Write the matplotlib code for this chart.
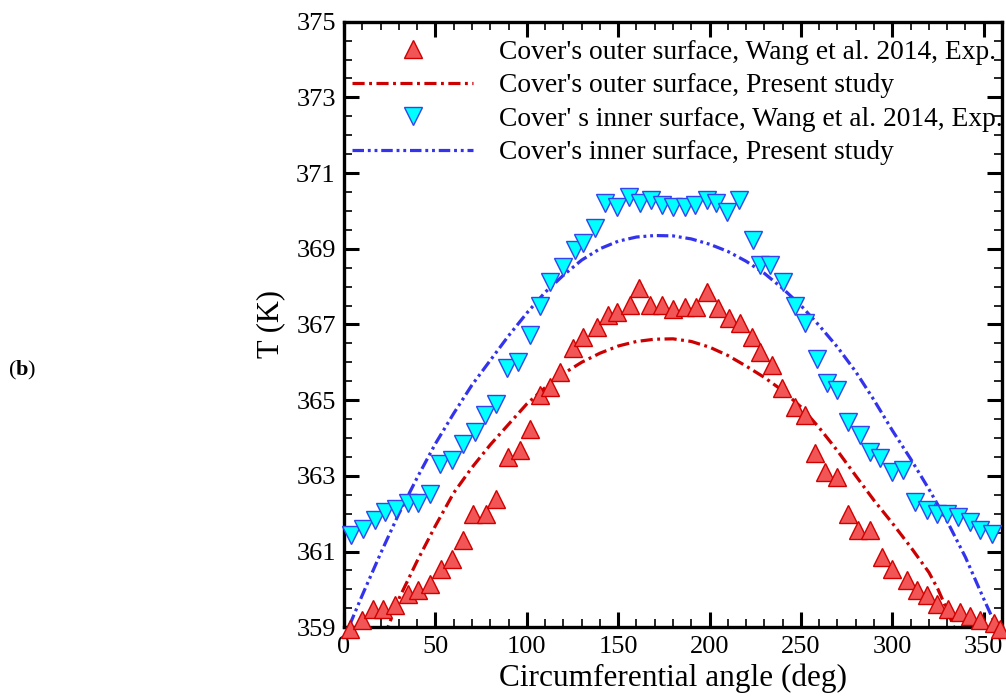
import numpy as np
import matplotlib
matplotlib.use('Agg')
import matplotlib.pyplot as plt
from matplotlib.ticker import MultipleLocator, FixedLocator

plt.rcParams['font.family'] = ['Liberation Serif', 'DejaVu Serif']
plt.rcParams['mathtext.fontset'] = 'custom'
plt.rcParams['mathtext.rm'] = 'Liberation Serif'
plt.rcParams['mathtext.bf'] = 'Liberation Serif:bold'

# Cover's outer surface, experiment
outer_exp_x = [3, 10, 15.8, 21.3, 27.7, 35, 40.5, 46.9, 53.3, 58.8, 65.1, 70.6, 77.9, 83.4,
               89.8, 96.2, 101.6, 107.1, 112.6, 118.1, 125.4, 130.8, 138.2, 144.5, 149.5,
               156.4, 161.5, 167.4, 173.8, 179.8, 186.5, 192.6, 198.4, 204.4, 210.5, 216.9,
               223, 227.6, 234.0, 239.5, 246.8, 252.2, 257.7, 263.2, 269.6, 276, 281.4,
               287.8, 294.2, 299.7, 307.9, 313.4, 318.9, 324.4, 330.7, 337.1, 342.6, 348.1,
               355.4, 359]
outer_exp_y = [358.95, 359.2, 359.49, 359.49, 359.58, 359.89, 359.97, 360.15, 360.55, 360.81,
               361.3, 362.0, 362.0, 362.4, 363.5, 363.68, 364.25, 365.13, 365.35, 365.75,
               366.37, 366.67, 366.94, 367.25, 367.34, 367.51, 367.95, 367.51, 367.51, 367.40,
               367.47, 367.47, 367.86, 367.43, 367.16, 367.03, 366.67, 366.28, 365.93, 365.31,
               364.82, 364.60, 363.59, 363.10, 362.97, 362.0, 361.56, 361.56, 360.85, 360.55,
               360.24, 359.97, 359.84, 359.62, 359.49, 359.4, 359.3, 359.2, 359.1, 358.95]

# Cover's outer surface, present study
outer_num_x = [22, 30, 40, 50, 60, 70, 80, 90, 100, 110, 120, 130, 140, 150, 160, 170, 180,
               190, 200, 210, 220, 230, 240, 250, 260, 270, 280, 290, 300, 310, 320, 325, 330,
               335]
outer_num_y = [358.75, 359.75, 360.75, 361.68, 362.55, 363.22, 363.82, 364.36, 364.90, 365.33,
               365.70, 366.0, 366.24, 366.43, 366.55, 366.61, 366.62, 366.55, 366.40, 366.18,
               365.9, 365.6, 365.25, 364.82, 364.27, 363.66, 363.0, 362.35, 361.75, 361.12,
               360.45, 360.0, 359.45, 358.85]

# Cover's inner surface, experiment
inner_exp_x = [4.0, 10.4, 16.8, 22.2, 28.6, 35, 40.5, 46.9, 52.4, 58.8, 65.1, 71.5, 77, 83.4,
               88.9, 95.2, 101.6, 107.1, 112.6, 119.9, 126.3, 130.8, 137.2, 142.7, 149.1, 156,
               161.9, 167.7, 173.8, 180.1, 186.5, 192, 198.4, 203.5, 209.4, 216.1, 223.6,
               227.6, 233.1, 240.4, 246.8, 252.2, 258.6, 264.1, 269.6, 276, 282.4, 287.8,
               293.3, 299.7, 306.1, 312.5, 318.9, 324.4, 329.8, 336.2, 342.6, 348.1, 354.5]
inner_exp_y = [361.43, 361.6, 361.83, 362.05, 362.13, 362.27, 362.27, 362.53, 363.32, 363.41,
               363.85, 364.16, 364.6, 364.91, 365.84, 366.01, 366.72, 367.5, 368.13, 368.53,
               368.97, 369.14, 369.54, 370.2, 370.11, 370.38, 370.2, 370.29, 370.16, 370.11,
               370.11, 370.16, 370.29, 370.2, 369.98, 370.29, 369.23, 368.57, 368.57, 368.13,
               367.5, 367.03, 366.1, 365.44, 365.26, 364.43, 364.07, 363.63, 363.46, 363.1,
               363.15, 362.31, 362.09, 362.0, 362.0, 361.91, 361.78, 361.56, 361.47]

# Cover's inner surface, present study
inner_num_x = [3, 10, 20, 30, 40, 50, 60, 70, 80, 90, 100, 110, 120, 130, 140, 150, 160, 170,
               180, 190, 200, 210, 220, 230, 240, 250, 260, 270, 280, 290, 300, 310, 320, 330,
               340, 350, 358]
inner_num_y = [359.05, 359.85, 360.95, 362.0, 362.95, 363.85, 364.65, 365.4, 366.05, 366.7,
               367.3, 367.85, 368.3, 368.7, 369.0, 369.2, 369.31, 369.35, 369.34, 369.26,
               369.12, 368.93, 368.67, 368.35, 367.95, 367.5, 366.97, 366.4, 365.75, 365.0,
               364.2, 363.45, 362.65, 361.8, 360.85, 359.75, 358.9]

y_ticks = [359, 361, 363, 365, 367, 369, 371, 373, 375]

fig = plt.figure(figsize=(10.06, 7.0), dpi=100)
ax = fig.add_axes([0.342, 0.104, 0.654, 0.865])

ax.plot(outer_exp_x, outer_exp_y, linestyle='none', marker='^', markersize=13,
        markerfacecolor='#F25555', markeredgecolor='#D00000', markeredgewidth=1.0,
        clip_on=False, zorder=3, label="Cover's outer surface, Wang et al. 2014, Exp.")
ax.plot(outer_num_x, outer_num_y, color='#CC0000', linewidth=2.3,
        dashes=[3.8, 1.4, 0.9, 1.4], label="Cover's outer surface, Present study")
ax.plot(inner_exp_x, inner_exp_y, linestyle='none', marker='v', markersize=13,
        markerfacecolor='#00FFFF', markeredgecolor='#3344EE', markeredgewidth=1.0,
        clip_on=False, zorder=3, label="Cover' s inner surface, Wang et al. 2014, Exp.")
ax.plot(inner_num_x, inner_num_y, color='#3333EE', linewidth=2.3,
        dashes=[3.6, 1.2, 0.9, 1.2, 0.9, 1.2], label="Cover's inner surface, Present study")

ax.set_xlim(0, 360)
ax.set_ylim(359, 375)
ax.xaxis.set_major_locator(MultipleLocator(50))
ax.xaxis.set_minor_locator(MultipleLocator(10))
ax.yaxis.set_major_locator(FixedLocator(y_ticks))
ax.yaxis.set_minor_locator(MultipleLocator(0.5))
ax.tick_params(which='both', direction='in', top=True, right=True, labelsize=19)
ax.tick_params(which='major', length=11, width=2.2, pad=6)
ax.tick_params(which='minor', length=6, width=1.2)
for s in ax.spines.values():
    s.set_linewidth(2.4)

ax.set_xlabel('Circumferential angle (deg)', fontsize=22.5, labelpad=4)
ax.set_ylabel('T (K)', fontsize=22, labelpad=8)

leg = ax.legend(loc='upper left', bbox_to_anchor=(0.0, 0.984), frameon=False,
                fontsize=19.8, handlelength=4.4, handletextpad=0.95,
                borderaxespad=0.0, borderpad=0.3, labelspacing=0.3)

fig.text(0.008, 0.471, r'($\mathbf{b}$)', fontsize=16, va='center')

fig.savefig('out.png', dpi=100)
